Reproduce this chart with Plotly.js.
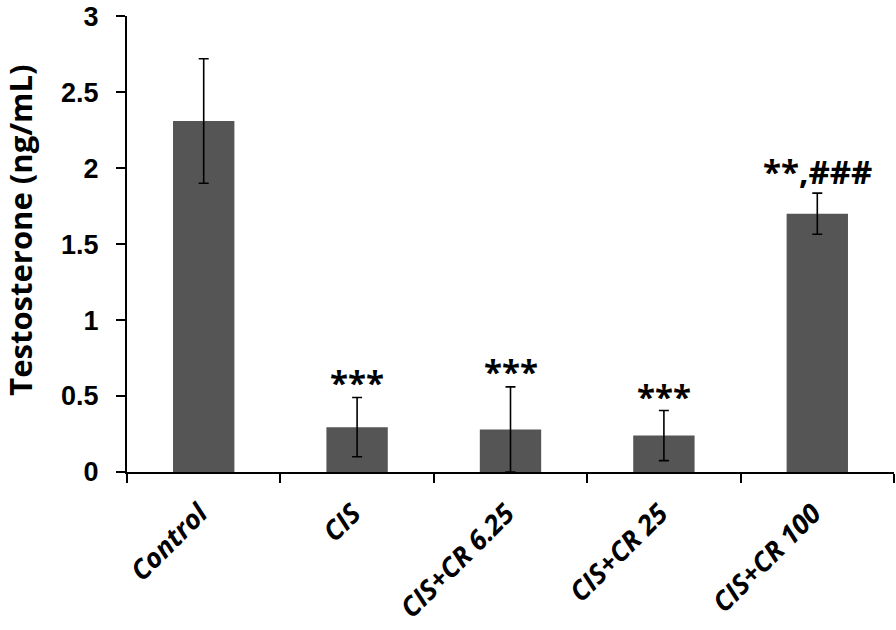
<!DOCTYPE html>
<html>
<head>
<meta charset="utf-8">
<script src="https://cdn.plot.ly/plotly-3.0.1.min.js"></script>
<style>
  body { margin: 0; background: #fff; }
  #chart { width: 896px; height: 630px; }
</style>
</head>
<body>
<div id="chart"></div>
<script>
// Data
const groups = ["Control", "CIS", "CIS+CR 6.25", "CIS+CR 25", "CIS+CR 100"];
const means = [2.31, 0.295, 0.28, 0.24, 1.70];
const errors = [0.41, 0.195, 0.28, 0.165, 0.135];
const marks = ["", "***", "***", "***", "**,###"];
const markY = [0, 0.59, 0.66, 0.50, 1.98];
const yTicks = [0, 0.5, 1, 1.5, 2, 2.5, 3];

const labelFont = "'Open Sans', 'Liberation Sans', sans-serif";
const tickFont = "'Liberation Sans', Arial, sans-serif";

const trace = {
    x: groups,
    y: means,
    type: "bar",
    width: 0.4,
    marker: {color: "#555555", line: {width: 0}},
    error_y: {
        type: "data",
        array: errors,
        visible: true,
        color: "#000",
        thickness: 1.6,
        width: 5
    },
    hoverinfo: "none"
};

const annotations = [];
for (let i = 0; i < groups.length; i++) {
    if (!marks[i]) continue;
    annotations.push({
        x: groups[i],
        y: markY[i],
        xref: "x",
        yref: "y",
        text: "<b>" + marks[i] + "</b>",
        showarrow: false,
        yanchor: "middle",
        font: {family: labelFont, size: 33, color: "#000"}
    });
}

// y axis title placed a bit above the plot centre, as in the figure
annotations.push({
    xref: "paper",
    yref: "paper",
    x: -0.139,
    y: 0.53,
    xanchor: "center",
    yanchor: "middle",
    textangle: -90,
    text: "<b>Testosterone (ng/mL)</b>",
    showarrow: false,
    font: {family: labelFont, size: 31, color: "#000"}
});

const layout = {
    width: 896,
    height: 630,
    margin: {l: 127, r: 2, t: 16, b: 158},
    paper_bgcolor: "#fff",
    plot_bgcolor: "#fff",
    showlegend: false,
    font: {family: labelFont, color: "#000"},
    xaxis: {
        showline: true,
        linecolor: "#000",
        linewidth: 2,
        ticks: "outside",
        tickson: "boundaries",
        ticklen: 9,
        tickwidth: 2,
        tickcolor: "#000",
        tickangle: -45,
        tickvals: groups,
        ticktext: groups.map(g => "<b><i>" + g + "</i></b>"),
        ticklabelstandoff: 13,
        ticklabelshift: -4,
        tickfont: {family: labelFont, size: 27, color: "#000"},
        showgrid: false,
        zeroline: false,
        fixedrange: true
    },
    yaxis: {
        range: [0, 3.001],
        tickvals: yTicks,
        ticktext: yTicks.map(String),
        showline: true,
        linecolor: "#000",
        linewidth: 2,
        ticks: "outside",
        ticklen: 9,
        tickwidth: 2,
        tickcolor: "#000",
        ticklabelstandoff: 12,
        ticklabeloverflow: "allow",
        tickfont: {family: tickFont, size: 27, color: "#000", weight: "bold"},
        showgrid: false,
        zeroline: false,
        fixedrange: true
    },
    annotations: annotations
};

Plotly.newPlot("chart", [trace], layout, {displayModeBar: false, staticPlot: true});
</script>
</body>
</html>
